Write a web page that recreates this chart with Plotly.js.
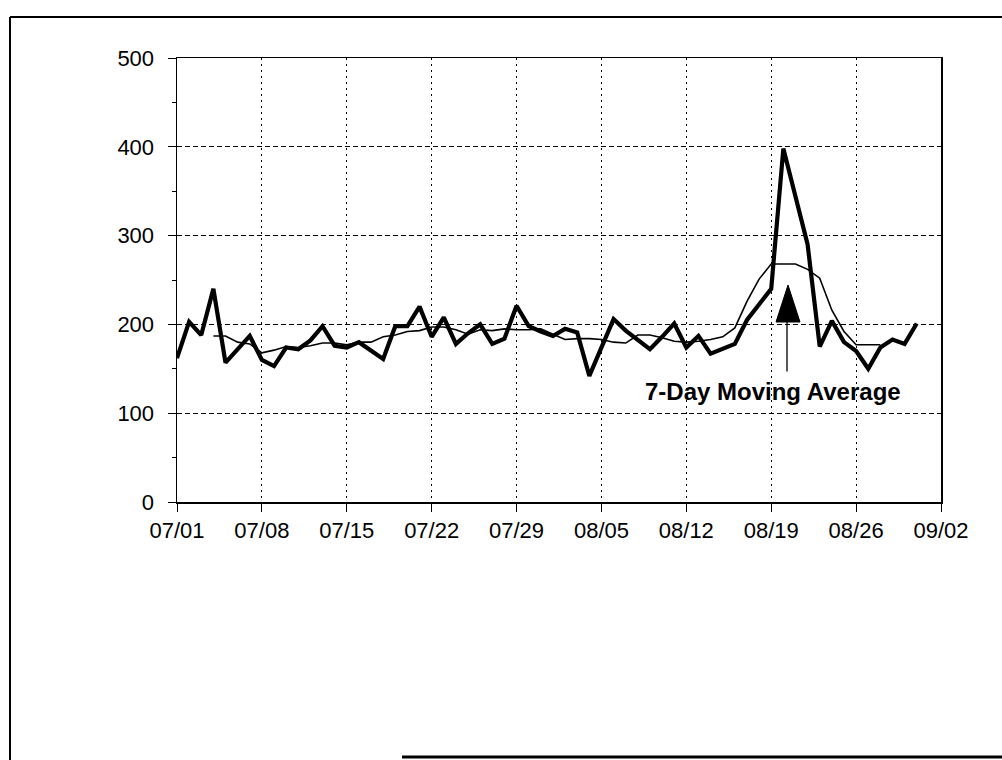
<!DOCTYPE html>
<html>
<head>
<meta charset="utf-8">
<script src="https://cdn.plot.ly/plotly-3.0.1.min.js"></script>
<style>
html,body{margin:0;padding:0;background:#fff;}
#chart{width:1002px;height:760px;}
</style>
</head>
<body>
<div id="chart"></div>
<script>
// Daily dates (07/01 .. 08/31)
var dates = [
 '1998-07-01','1998-07-02','1998-07-03','1998-07-04','1998-07-05','1998-07-06','1998-07-07',
 '1998-07-08','1998-07-09','1998-07-10','1998-07-11','1998-07-12','1998-07-13','1998-07-14',
 '1998-07-15','1998-07-16','1998-07-17','1998-07-18','1998-07-19','1998-07-20','1998-07-21',
 '1998-07-22','1998-07-23','1998-07-24','1998-07-25','1998-07-26','1998-07-27','1998-07-28',
 '1998-07-29','1998-07-30','1998-07-31','1998-08-01','1998-08-02','1998-08-03','1998-08-04',
 '1998-08-05','1998-08-06','1998-08-07','1998-08-08','1998-08-09','1998-08-10','1998-08-11',
 '1998-08-12','1998-08-13','1998-08-14','1998-08-15','1998-08-16','1998-08-17','1998-08-18',
 '1998-08-19','1998-08-20','1998-08-21','1998-08-22','1998-08-23','1998-08-24','1998-08-25',
 '1998-08-26','1998-08-27','1998-08-28','1998-08-29','1998-08-30','1998-08-31'
];
// Daily values (thick line)
var daily = [
 162,203,188,240,157,172,187,
 160,153,174,172,182,198,176,
 174,180,170,161,198,198,220,
 186,208,178,190,200,178,184,
 221,198,192,187,195,191,142,
 174,206,193,182,172,186,201,
 174,187,167,172,178,205,222,
 240,398,345,290,175,204,180,
 170,150,174,183,178,201
];
// 7-day moving average (thin line), dates 07/04 .. 08/28
var maDates = dates.slice(3, 59);
var movingAvg = [
 187,187,180,178,168,171,175,
 174,176,179,179,177,180,180,
 186,188,192,193,197,197,194,
 189,194,193,195,194,194,195,
 189,183,184,184,183,180,179,
 188,188,185,181,180,181,183,
 186,196,226,251,268,268,268,
 262,252,216,192,177,177,177
];
var weekTicks = ['1998-07-01','1998-07-08','1998-07-15','1998-07-22','1998-07-29',
 '1998-08-05','1998-08-12','1998-08-19','1998-08-26','1998-09-02'];
var yTicks = [0,100,200,300,400,500];
var annoText = '7-Day Moving Average';

var tickFont = {family:'"Liberation Sans", Arial, sans-serif', size:22, color:'#000'};

var traces = [
 {x: maDates, y: movingAvg, type:'scatter', mode:'lines',
  line:{color:'#000', width:1.6}, hoverinfo:'skip'},
 {x: dates, y: daily, type:'scatter', mode:'lines',
  line:{color:'#000', width:4.2}, hoverinfo:'skip'}
];

var P = function(px){return (px-177)/764;};
var Q = function(py){return (502-py)/444;};

var layout = {
 width:1002, height:760,
 margin:{l:177, r:61, t:58, b:258, pad:0},
 paper_bgcolor:'#fff', plot_bgcolor:'#fff',
 showlegend:false,
 xaxis:{
  type:'date', range:['1998-07-01','1998-09-02'],
  tickvals: weekTicks, tickformat:'%m/%d',
  ticks:'outside', ticklen:8, tickwidth:1, tickcolor:'#000',
  showline:true, linecolor:'#000', linewidth:1.5, mirror:true,
  showgrid:true, gridcolor:'#000', gridwidth:1, griddash:'2px,4px',
  zeroline:false, tickfont:tickFont, ticklabelstandoff:0,
  fixedrange:true
 },
 yaxis:{
  range:[0,500], tickvals:yTicks,
  ticks:'outside', ticklen:8, tickwidth:1, tickcolor:'#000',
  minor:{dtick:50, ticks:'outside', ticklen:4, tickcolor:'#000', showgrid:false},
  showline:true, linecolor:'#000', linewidth:1.5, mirror:true,
  showgrid:true, gridcolor:'#000', gridwidth:1, griddash:'5px,3px',
  zeroline:false, tickfont:tickFont, ticklabelstandoff:9,
  fixedrange:true
 },
 annotations:[
  {xref:'paper', yref:'paper', x:P(773), y:Q(391), text:'<b>'+annoText+'</b>',
   showarrow:false, xanchor:'center', yanchor:'middle',
   font:{family:'"Liberation Sans", Arial, sans-serif', size:24, color:'#000'}},
  {xref:'paper', yref:'paper', x:P(787), y:Q(321), ax:0, ay:52,
   text:'', showarrow:true, arrowhead:0, arrowwidth:1.3, arrowcolor:'#000'}
 ],
 shapes:[
  {type:'path', xref:'paper', yref:'paper', xsizemode:'pixel', ysizemode:'pixel',
   xanchor:P(788), yanchor:Q(322), path:'M-12,0 L12,0 L0,37 Z',
   fillcolor:'#000', line:{color:'#000', width:1}},
  // outer page frame
  {type:'line', xref:'paper', yref:'paper', x0:P(10), x1:P(10), y0:Q(17), y1:Q(762),
   line:{color:'#000', width:2}},
  {type:'line', xref:'paper', yref:'paper', x0:P(10), x1:P(1004), y0:Q(17), y1:Q(17),
   line:{color:'#000', width:2}},
  {type:'line', xref:'paper', yref:'paper', x0:P(402), x1:P(1004), y0:Q(757), y1:Q(757),
   line:{color:'#000', width:3}}
 ]
};

Plotly.newPlot('chart', traces, layout, {displayModeBar:false, staticPlot:true});
</script>
</body>
</html>
